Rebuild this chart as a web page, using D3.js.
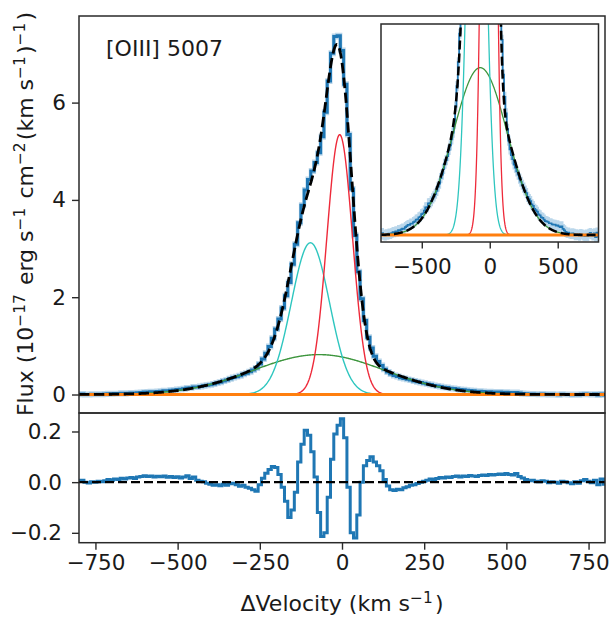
<!DOCTYPE html>
<html>
<head>
<meta charset="utf-8">
<script src="https://cdn.jsdelivr.net/npm/d3@7"></script>
<style>
  body { margin: 0; background: #fff; }
  svg { display: block; }
  text { font-family: "DejaVu Sans", sans-serif; fill: #1a1a1a; }
</style>
</head>
<body>
<svg id="chart" width="612" height="617"></svg>
<script>
// ---------------- DATA ----------------
const lineLabel = "[OIII] 5007";
// velocity bins (km/s), 10 km/s wide
const velocity = d3.range(-800, 801, 10);
// residual (data - model), one value per bin
const residual = [
  0.005, 0.008, 0.000,-0.003, 0.002, 0.000, 0.004, 0.002, 0.006, 0.010,
  0.008, 0.012, 0.010, 0.015, 0.012, 0.016, 0.018, 0.014, 0.020, 0.022,
  0.025, 0.022, 0.024, 0.020, 0.023, 0.021, 0.024, 0.019, 0.022, 0.018,
  0.021, 0.016, 0.020, 0.025, 0.014, 0.020, 0.008, 0.004, 0.002,-0.004,
 -0.008,-0.012,-0.010,-0.014,-0.008,-0.012,-0.006,-0.004,-0.010,-0.016,
 -0.012,-0.020,-0.024,-0.030,-0.036,-0.010, 0.015, 0.035, 0.050, 0.062,
  0.058, 0.030,-0.020,-0.075,-0.140,-0.110,-0.040, 0.080, 0.150, 0.205,
  0.185, 0.120, 0.020,-0.120,-0.215,-0.200,-0.060, 0.090, 0.190, 0.225,
  0.250,
  0.175,-0.020,-0.200,-0.220,-0.130, 0.000, 0.065, 0.085, 0.100, 0.080,
  0.065, 0.045, 0.010,-0.015,-0.030,-0.033,-0.028,-0.030,-0.022,-0.018,
 -0.012,-0.010,-0.005, 0.000, 0.004, 0.008, 0.012, 0.010, 0.014, 0.018,
  0.016, 0.020, 0.018, 0.022, 0.024, 0.020, 0.024, 0.022, 0.026, 0.024,
  0.022, 0.026, 0.028, 0.026, 0.030, 0.028, 0.030, 0.032, 0.030, 0.034,
  0.030, 0.028, 0.034, 0.022, 0.016, 0.010, 0.006, 0.008, 0.004, 0.002,
  0.006, 0.004,-0.002, 0.002, 0.000,-0.004, 0.004, 0.002,-0.002,-0.006,
  0.002,-0.004, 0.006, 0.010, 0.004,-0.002, 0.008,-0.010, 0.012,-0.008
];
// Gaussian fit components: narrow core, blueshifted, broad
const componentNames  = ["core", "blue", "broad"];
const componentAmp    = [5.34, 3.12, 0.82];   // 1e-17 erg/s/cm2/(km/s)
const componentCenter = [-7, -96, -70];       // km/s
const componentSigma  = [39, 58, 200];        // km/s
const continuumLevel  = [0, 0];               // flat continuum at ends
const continuumVel    = [-800, 800];
const fluxError = 0.02;
const mainYTicks  = [0, 2, 4, 6];
const resYTicks   = [-0.2, 0.0, 0.2];
const xTicks      = [-750, -500, -250, 0, 250, 500, 750];
const insetXTicks = [-500, 0, 500];

// ---------------- STYLE ----------------
const compColors = ["#ee2a3a", "#2ec6bf", "#3d953d"];
const compOrder = [2, 1, 0];
const blue = "#1f77b4", bandCol = "#a9cde6", orange = "#ff7f0e", frameCol = "#2a2a2a";
const tickFont = 21.5, labelFont = 22;

// ---------------- MODEL ----------------
const gauss = (v, i) => componentAmp[i] * Math.exp(-0.5 * Math.pow((v - componentCenter[i]) / componentSigma[i], 2));
const model = v => componentAmp.reduce((s, _, i) => s + gauss(v, i), 0);
const fine = d3.range(-800, 800.1, 2);
const obs = velocity.map((v, i) => ({ v, f: model(v) + residual[i] }));
const res = velocity.map((v, i) => ({ v, r: residual[i] }));

// ---------------- LAYOUT ----------------
const svg = d3.select("#chart");
const L = 79, R = 605, mainTop = 16, mainBot = 413, resBot = 542.7;
const x  = d3.scaleLinear([-800, 800], [L, R]);
const yM = d3.scaleLinear([-0.38, 7.78], [mainBot, mainTop]);
const yR = d3.scaleLinear([-0.239, 0.273], [resBot, mainBot]);
const inL = 381, inR = 598.5, inT = 24, inB = 242;
const xI = d3.scaleLinear([-800, 800], [inL, inR]);
const yI = d3.scaleLinear([-0.034, 1.034], [inB, inT]);

const defs = svg.append("defs");
function clip(id, x0, y0, w, h) {
  defs.append("clipPath").attr("id", id).append("rect")
    .attr("x", x0).attr("y", y0).attr("width", w).attr("height", h);
  return "url(#" + id + ")";
}

function drawSpectrum(g, xs, ys, o) {
  // error band
  g.append("path").datum(obs)
    .attr("d", d3.area().curve(d3.curveStep).x(d => xs(d.v))
      .y0(d => ys(d.f - fluxError)).y1(d => ys(d.f + fluxError)))
    .attr("fill", bandCol).attr("opacity", 0.8)
    .attr("stroke", bandCol).attr("stroke-width", o.bandW);
  // observed data
  g.append("path").datum(obs)
    .attr("d", d3.line().curve(d3.curveStep).x(d => xs(d.v)).y(d => ys(d.f)))
    .attr("fill", "none").attr("stroke", blue).attr("stroke-width", o.dataW);
  // components
  compOrder.forEach(i => {
    g.append("path").datum(fine)
      .attr("d", d3.line().x(v => xs(v)).y(v => ys(gauss(v, i))))
      .attr("fill", "none").attr("stroke", compColors[i]).attr("stroke-width", o.compW);
  });
  // continuum
  g.append("path").datum(continuumVel)
    .attr("d", d3.line().x(v => xs(v)).y((v, k) => ys(continuumLevel[k])))
    .attr("fill", "none").attr("stroke", orange).attr("stroke-width", o.contW);
  // total model
  g.append("path").datum(fine)
    .attr("d", d3.line().x(v => xs(v)).y(v => ys(model(v))))
    .attr("fill", "none").attr("stroke", "#000").attr("stroke-width", o.modelW)
    .attr("stroke-dasharray", o.dash);
}

// ---------------- MAIN PANEL ----------------
const gMain = svg.append("g").attr("clip-path", clip("cMain", L, mainTop, R - L, mainBot - mainTop));
drawSpectrum(gMain, x, yM, { bandW: 4, dataW: 3, compW: 1.4, contW: 3, modelW: 2.8, dash: "10.4,4.5" });

// inset
svg.append("rect").attr("x", inL).attr("y", inT).attr("width", inR - inL).attr("height", inB - inT).attr("fill", "#fff");
const gIn = svg.append("g").attr("clip-path", clip("cIn", inL, inT, inR - inL, inB - inT));
drawSpectrum(gIn, xI, yI, { bandW: 2, dataW: 1.7, compW: 1.3, contW: 3, modelW: 2.5, dash: "9,4" });

// ---------------- RESIDUAL PANEL ----------------
const gRes = svg.append("g").attr("clip-path", clip("cRes", L, mainBot, R - L, resBot - mainBot));
gRes.append("path").datum(res)
  .attr("d", d3.line().curve(d3.curveStep).x(d => x(d.v)).y(d => yR(d.r)))
  .attr("fill", "none").attr("stroke", blue).attr("stroke-width", 3);
gRes.append("path").datum(continuumVel)
  .attr("d", d3.line().x(v => x(v)).y(() => yR(0)))
  .attr("fill", "none").attr("stroke", "#000").attr("stroke-width", 2.3).attr("stroke-dasharray", "9,4");

// ---------------- FRAMES ----------------
function frame(x0, y0, x1, y1) {
  svg.append("rect").attr("x", x0).attr("y", y0).attr("width", x1 - x0).attr("height", y1 - y0)
    .attr("fill", "none").attr("stroke", frameCol).attr("stroke-width", 1.5);
}
frame(L, mainTop, R, mainBot);
frame(L, mainBot, R, resBot);
frame(inL, inT, inR, inB);

// ---------------- AXES ----------------
function styleAxis(g) {
  g.select(".domain").remove();
  g.selectAll(".tick line").attr("stroke", frameCol).attr("stroke-width", 1.4);
  g.selectAll(".tick text").attr("font-size", tickFont).attr("font-family", "DejaVu Sans, sans-serif").attr("fill", "#1a1a1a");
  g.attr("font-size", null).attr("font-family", null);
}
const fmt1 = d3.format(".1f");
const minus = s => s.replace("-", "\u2212");

svg.append("g").attr("transform", `translate(${L},0)`)
  .call(d3.axisLeft(yM).tickValues(mainYTicks).tickSize(7).tickPadding(6).tickFormat(d => minus(String(d))))
  .call(styleAxis);
svg.append("g").attr("transform", `translate(${L},0)`)
  .call(d3.axisLeft(yR).tickValues(resYTicks).tickSize(7).tickPadding(10).tickFormat(d => minus(fmt1(d))))
  .call(styleAxis);
svg.append("g").attr("transform", `translate(0,${resBot})`)
  .call(d3.axisBottom(x).tickValues(xTicks).tickSize(7).tickPadding(5).tickFormat(d => minus(String(d))))
  .call(styleAxis);
svg.append("g").attr("transform", `translate(0,${inB})`)
  .call(d3.axisBottom(xI).tickValues(insetXTicks).tickSize(6.5).tickPadding(10).tickFormat(d => minus(String(d))))
  .call(styleAxis);

// ---------------- TEXT ----------------
svg.append("text").attr("x", 106).attr("y", 56).attr("font-size", labelFont).text(lineLabel);

function withSup(t, parts, supSize, rise) {
  parts.forEach(p => {
    if (p.sup) {
      t.append("tspan").attr("font-size", supSize).attr("dy", -rise).text(p.sup);
      t.append("tspan").attr("dy", rise).text("\u200A");
    } else {
      t.append("tspan").text(p.t);
    }
  });
}
const yl = svg.append("text").attr("transform", "translate(33,214) rotate(-90)")
  .attr("text-anchor", "middle").attr("font-size", labelFont);
withSup(yl, [
  { t: "Flux (10" }, { sup: "\u221217" }, { t: " erg s" }, { sup: "\u22121" },
  { t: " cm" }, { sup: "\u22122" }, { t: "(km s" }, { sup: "\u22121" }, { t: ")" },
  { sup: "\u22121" }, { t: ")" }
], 15.4, 8);

const xl = svg.append("text").attr("x", 342).attr("y", 611)
  .attr("text-anchor", "middle").attr("font-size", labelFont);
withSup(xl, [{ t: "\u0394Velocity (km s" }, { sup: "\u22121" }, { t: ")" }], 15.4, 8);
</script>
</body>
</html>
